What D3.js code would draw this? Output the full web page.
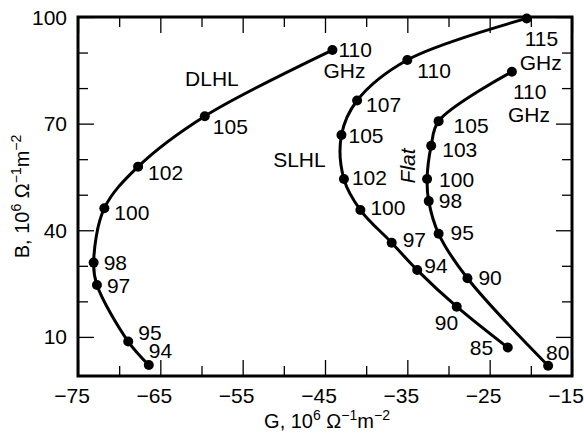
<!DOCTYPE html>
<html>
<head>
<meta charset="utf-8">
<script src="https://cdn.jsdelivr.net/npm/d3@7"></script>
<style>
  body { margin: 0; background: #fff; }
  svg { display: block; }
  text { font-family: "Liberation Sans", Arial, Helvetica, sans-serif; fill: #000; }
</style>
</head>
<body>
<svg id="chart" width="584" height="438"></svg>
<script>
// Admittance loci: frequency (GHz) of each marked point with its
// conductance G and susceptance B, both in 10^6 Ω^-1 m^-2.
const dlhlFreq = [110, 105, 102, 100, 98, 97, 95, 94];
const dlhlG    = [-44.1, -59.6, -67.7, -71.8, -73.1, -72.7, -68.9, -66.4];
const dlhlB    = [90.7, 72.1, 57.9, 46.2, 30.9, 24.6, 8.7, 2.1];

const slhlFreq = [115, 110, 107, 105, 102, 100, 97, 94, 90, 85];
const slhlG    = [-20.5, -35.0, -41.1, -43.0, -42.7, -40.7, -36.9, -33.8, -29.0, -22.8];
const slhlB    = [99.6, 87.9, 76.5, 66.8, 54.4, 45.7, 36.5, 28.8, 18.5, 7.0];

const flatFreq = [110, 105, 103, 100, 98, 95, 90, 80];
const flatG    = [-22.3, -31.2, -32.1, -32.6, -32.4, -31.2, -27.7, -17.9];
const flatB    = [84.6, 70.7, 63.8, 54.4, 48.2, 39.0, 26.5, 1.9];

const seriesNames = ["DLHL", "SLHL", "Flat"];

// Axis ticks
const xTicks  = [-75, -70, -65, -60, -55, -50, -45, -40, -35, -30, -25, -20, -15];
const xLabels = [-75, -65, -55, -45, -35, -25, -15];
const yTicks  = [10, 20, 30, 40, 50, 60, 70, 80, 90, 100];
const yLabels = [10, 40, 70, 100];

// Label placement (pixel offsets from each point: left edge, baseline)
const dlhlLabelPos = [[6, 7], [8, 18], [10, 13], [10, 12], [10, 7], [10, 8], [10, -2], [0, -7]];
const slhlLabelPos = [[-2, 28], [10, 18], [9, 11], [7, 8], [8, 6], [10, 5], [11, 4], [7, 3], [-22, 23], [-38, 7]];
const flatLabelPos = [[1, 27], [15, 12], [11, 11], [12, 8], [10, 7], [12, 6], [11, 7], [-2, -6]];
// Unit line beneath the end label
const dlhlUnitPos = [-9, 28];
const slhlUnitPos = [-7, 52];
const flatUnitPos = [-4, 50];

const svg = d3.select("#chart");
const frame = { left: 78, right: 572, top: 17, bottom: 376 };

const x = d3.scaleLinear().domain([-75, -15]).range([frame.left, frame.right]);
const y = d3.scaleLinear().domain([-1, 100]).range([frame.bottom, frame.top]);

const FS = 21;
const majorLen = 16, minorLen = 10;

// Axes: ticks on all four sides, pointing inward
const xMajor = new Set(xLabels);
const yMajor = new Set(yLabels);

const axisBottom = d3.axisBottom(x).tickValues(xTicks).tickSize(0).tickFormat("");
svg.append("g").attr("transform", `translate(0,${frame.bottom})`).call(axisBottom)
  .call(g => g.select(".domain").remove())
  .selectAll(".tick line")
  .attr("y2", d => -(xMajor.has(d) ? majorLen : minorLen))
  .attr("stroke", "#000").attr("stroke-width", 1.3);

const axisTop = d3.axisTop(x).tickValues(xTicks).tickSize(0).tickFormat("");
svg.append("g").attr("transform", `translate(0,${frame.top})`).call(axisTop)
  .call(g => g.select(".domain").remove())
  .selectAll(".tick line")
  .attr("y2", d => (xMajor.has(d) ? majorLen : minorLen))
  .attr("stroke", "#000").attr("stroke-width", 1.3);

const axisLeft = d3.axisLeft(y).tickValues(yTicks).tickSize(0).tickFormat("");
svg.append("g").attr("transform", `translate(${frame.left},0)`).call(axisLeft)
  .call(g => g.select(".domain").remove())
  .selectAll(".tick line")
  .attr("x2", d => (yMajor.has(d) ? majorLen : minorLen))
  .attr("stroke", "#000").attr("stroke-width", 1.3);

const axisRight = d3.axisRight(y).tickValues(yTicks).tickSize(0).tickFormat("");
svg.append("g").attr("transform", `translate(${frame.right},0)`).call(axisRight)
  .call(g => g.select(".domain").remove())
  .selectAll(".tick line")
  .attr("x2", d => -(yMajor.has(d) ? majorLen : minorLen))
  .attr("stroke", "#000").attr("stroke-width", 1.3);

// Frame
svg.append("rect")
  .attr("x", frame.left).attr("y", frame.top)
  .attr("width", frame.right - frame.left).attr("height", frame.bottom - frame.top)
  .attr("fill", "none").attr("stroke", "#000").attr("stroke-width", 3);

// Tick labels
const fmt = v => (v < 0 ? "\u2212" + Math.abs(v) : String(v));
svg.append("g").selectAll("text").data(xLabels).join("text")
  .attr("x", d => x(d) - 6).attr("y", 403)
  .attr("text-anchor", "middle").attr("font-size", FS)
  .text(fmt);

svg.append("g").selectAll("text").data(yLabels).join("text")
  .attr("x", 67).attr("y", d => y(d) + 7.5)
  .attr("text-anchor", "end").attr("font-size", FS)
  .text(fmt);

// Axis titles with superscript exponents
function unitTitle(sel, lead) {
  const sup = 14, up = -8;
  sel.append("tspan").text(lead + "10");
  sel.append("tspan").attr("dy", up).attr("font-size", sup).text("6");
  sel.append("tspan").attr("dy", -up).text(" \u03A9");
  sel.append("tspan").attr("dy", up).attr("font-size", sup).text("\u22121");
  sel.append("tspan").attr("dy", -up).text("m");
  sel.append("tspan").attr("dy", up).attr("font-size", sup).text("\u22122");
}
svg.append("text")
  .attr("x", 327).attr("y", 428)
  .attr("text-anchor", "middle").attr("font-size", 20)
  .call(unitTitle, "G, ");
svg.append("text")
  .attr("transform", `translate(29,${(frame.top + frame.bottom) / 2}) rotate(-90)`)
  .attr("text-anchor", "middle").attr("font-size", 20)
  .call(unitTitle, "B, ");

// Loci
const line = d3.line()
  .x(d => x(d.g)).y(d => y(d.b))
  .curve(d3.curveCatmullRom.alpha(0.5));

function zipSeries(freq, G, B) {
  return freq.map((f, i) => ({ f, g: G[i], b: B[i] }));
}

const series = [
  { pts: zipSeries(dlhlFreq, dlhlG, dlhlB), lab: dlhlLabelPos, unit: dlhlUnitPos },
  { pts: zipSeries(slhlFreq, slhlG, slhlB), lab: slhlLabelPos, unit: slhlUnitPos },
  { pts: zipSeries(flatFreq, flatG, flatB), lab: flatLabelPos, unit: flatUnitPos }
];

series.forEach(s => {
  svg.append("path")
    .datum(s.pts)
    .attr("d", line)
    .attr("fill", "none").attr("stroke", "#000").attr("stroke-width", 3)
    .attr("stroke-linejoin", "round").attr("stroke-linecap", "round");

  svg.append("g").selectAll("circle").data(s.pts).join("circle")
    .attr("cx", d => x(d.g)).attr("cy", d => y(d.b)).attr("r", 5)
    .attr("fill", "#000");

  svg.append("g").selectAll("text").data(s.pts).join("text")
    .attr("x", (d, i) => x(d.g) + s.lab[i][0])
    .attr("y", (d, i) => y(d.b) + s.lab[i][1])
    .attr("font-size", FS)
    .text(d => d.f);

  const end = s.pts[0];
  svg.append("text")
    .attr("x", x(end.g) + s.unit[0]).attr("y", y(end.b) + s.unit[1])
    .attr("font-size", FS)
    .text("GHz");
});

// Series names, anchored in data space
svg.append("text")
  .attr("x", x(-62.0)).attr("y", y(80.6))
  .attr("font-size", FS).text(seriesNames[0]);
svg.append("text")
  .attr("x", x(-51.3)).attr("y", y(57.8))
  .attr("font-size", FS).text(seriesNames[1]);
svg.append("text")
  .attr("transform", `translate(${x(-34.1)},${y(58.1)}) rotate(-90)`)
  .attr("text-anchor", "middle").attr("font-size", FS).attr("font-style", "italic")
  .text(seriesNames[2]);
</script>
</body>
</html>
